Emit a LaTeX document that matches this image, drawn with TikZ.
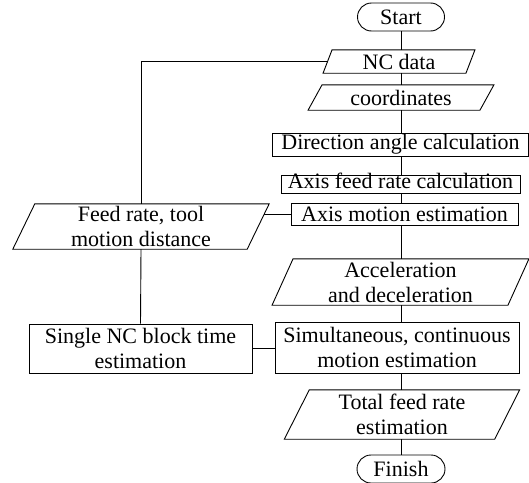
\documentclass[tikz,border=0pt]{standalone}
\usepackage{fontspec}
\setmainfont{Liberation Serif}
\usetikzlibrary{calc}
\newcommand{\parabox}[2]{\draw[line width=0.9pt] ([xshift=#2]#1.north west) -- ([xshift=#2]#1.north east) -- ([xshift=-#2]#1.south east) -- ([xshift=-#2]#1.south west) -- cycle;}
\begin{document}
\begin{tikzpicture}[x=1pt,y=-1pt, font=\fontsize{22}{25}\selectfont,
 box/.style={draw, line width=0.9pt, inner sep=0pt, align=center},
 pbox/.style={inner sep=0pt, align=center},
 term/.style={draw, line width=0.9pt, inner sep=0pt, rounded corners=14pt},
 link/.style={line width=0.9pt}]
\useasboundingbox (0,0) rectangle (529,482);
\node[term, minimum width=87pt, minimum height=28pt] (start) at (401,17) {Start};
\node[pbox, minimum width=142.5pt, minimum height=23pt] (ncd) at (399,61.5) {NC data};
\node[pbox, minimum width=171.5pt, minimum height=25pt] (crd) at (401,97.5) {coordinates};
\node[box, minimum width=256pt, minimum height=23pt] (dir) at (400.5,144.5) {Direction angle calculation};
\node[box, minimum width=239pt, minimum height=18pt, text height=13pt, text depth=5pt] (afr) at (400.5,184) {Axis feed rate calculation};
\node[box, minimum width=227pt, minimum height=22pt] (axm) at (404.5,214) {Axis motion estimation};
\node[pbox, minimum width=234pt, minimum height=45pt] (feed) at (141,226.5) {Feed rate, tool\\motion distance};
\node[pbox, minimum width=235.5pt, minimum height=46pt] (acc) at (400.5,282) {Acceleration\\and deceleration};
\node[box, minimum width=223pt, minimum height=49pt] (single) at (140.5,348.5) {Single NC block time\\estimation};
\node[box, minimum width=244pt, minimum height=51pt] (sim) at (397,347.5) {Simultaneous, continuous\\motion estimation};
\node[pbox, minimum width=210pt, minimum height=49pt] (tot) at (402,414.5) {Total feed rate\\estimation};
\node[term, minimum width=88pt, minimum height=28pt] (fin) at (401,469) {Finish};
\parabox{ncd}{4.5pt}
\parabox{crd}{7pt}
\parabox{feed}{11pt}
\parabox{acc}{10.5pt}
\parabox{tot}{12.5pt}
\coordinate (fe) at ($([xshift=11pt]feed.north east)!0.222!([xshift=-11pt]feed.south east)$);
\draw[link] (start.south) -- (start.south |- ncd.north);
\draw[link] (start.south |- ncd.south) -- (start.south |- crd.north);
\draw[link] (start.south |- crd.south) -- (start.south |- dir.north);
\draw[link] (start.south |- dir.south) -- (start.south |- afr.north);
\draw[link] (start.south |- afr.south) -- (start.south |- axm.north);
\draw[link] (start.south |- axm.south) -- (start.south |- acc.north);
\draw[link] (start.south |- acc.south) -- (start.south |- sim.north);
\draw[link] (start.south |- sim.south) -- (start.south |- tot.north);
\draw[link] (start.south |- tot.south) -- (fin.north);
\draw[link] (ncd.west) -| (feed.north);
\draw[link] (feed.south) -- (single.north);
\draw[link] (axm.west) -- (axm.west -| fe);
\draw[link] (single.east) -- (single.east -| sim.west);
\end{tikzpicture}
\end{document}
